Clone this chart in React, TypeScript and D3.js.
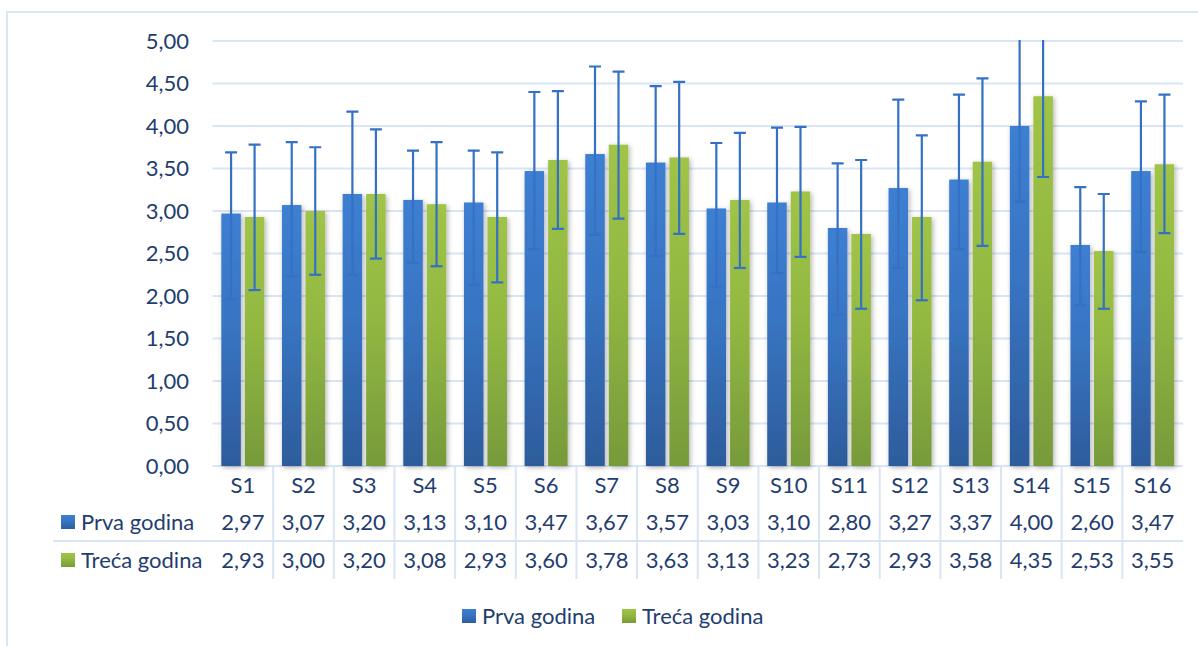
import React from "react";
import * as d3 from "d3";

const categories = ["S1","S2","S3","S4","S5","S6","S7","S8","S9","S10","S11","S12","S13","S14","S15","S16"];
const seriesNames = ["Prva godina", "Treća godina"];
const prva = [2.97,3.07,3.20,3.13,3.10,3.47,3.67,3.57,3.03,3.10,2.80,3.27,3.37,4.00,2.60,3.47];
const treca = [2.93,3.00,3.20,3.08,2.93,3.60,3.78,3.63,3.13,3.23,2.73,2.93,3.58,4.35,2.53,3.55];
const prvaUpper = [3.69,3.81,4.17,3.71,3.71,4.40,4.70,4.47,3.80,3.98,3.56,4.31,4.37,5.20,3.28,4.29];
const prvaLower = [1.96,2.23,2.25,2.39,2.13,2.55,2.72,2.47,2.11,2.27,1.78,2.33,2.55,3.11,1.89,2.52];
const trecaUpper = [3.78,3.75,3.96,3.81,3.69,4.41,4.64,4.52,3.92,3.99,3.60,3.89,4.56,5.30,3.20,4.37];
const trecaLower = [2.07,2.25,2.44,2.35,2.16,2.79,2.91,2.73,2.33,2.46,1.85,1.95,2.59,3.40,1.85,2.74];
const yTicks = [0, 0.5, 1, 1.5, 2, 2.5, 3, 3.5, 4, 4.5, 5];

const locale = d3.formatLocale({ decimal: ",", thousands: ".", grouping: [3], currency: ["", "€"] });
const fmt = locale.format(".2f");

const FONT = "Lato, 'Open Sans', sans-serif";
const FS = 22;
const TEXT = "#1f3d70";
const GRID = "#d9e5f4";
const ERR = "#3471c4";

export default function App() {
  const W = 1198, H = 646;
  const plotL = 212.5, plotR = 1183, plotT = 41, plotB = 466;
  const x0 = d3.scaleBand<string>().domain(categories).range([plotL, plotR]).paddingInner(0).paddingOuter(0);
  const x1 = d3.scaleBand<string>().domain(seriesNames).range([0, x0.bandwidth()]).paddingInner(0.17).paddingOuter(0.375);
  const y = d3.scaleLinear().domain([0, 5]).range([plotB, plotT]);

  const series = [
    { name: seriesNames[0], values: prva, upper: prvaUpper, lower: prvaLower, grad: "gBlue" },
    { name: seriesNames[1], values: treca, upper: trecaUpper, lower: trecaLower, grad: "gGreen" },
  ];

  const rowY = [522, 560];
  const headerY = 485;
  const tableBottom = 579;
  const rowLineY = 541;

  return (
    <svg width={W} height={H} style={{ position: "absolute", left: 0, top: 0 }} fontFamily={FONT}>
      <defs>
        <linearGradient id="gBlue" x1="0" y1="0" x2="0" y2="1">
          <stop offset="0" stopColor="#3d7fd2" />
          <stop offset="0.45" stopColor="#3874c2" />
          <stop offset="1" stopColor="#2d5c9b" />
        </linearGradient>
        <linearGradient id="gGreen" x1="0" y1="0" x2="0" y2="1">
          <stop offset="0" stopColor="#9fc446" />
          <stop offset="0.45" stopColor="#92b842" />
          <stop offset="1" stopColor="#779a3a" />
        </linearGradient>
        <filter id="shadow" x="-50%" y="-10%" width="200%" height="130%">
          <feDropShadow dx="1.5" dy="1.5" stdDeviation="2.5" floodColor="#000" floodOpacity="0.3" />
        </filter>
        <clipPath id="plotClip">
          <rect x={plotL} y={plotT - 1} width={plotR - plotL} height={plotB - plotT + 1} />
        </clipPath>
      </defs>
      <rect x={0} y={0} width={W} height={H} fill="#fff" />
      <rect x={7} y={12} width={1400} height={800} fill="none" stroke={GRID} strokeWidth={2} />

      {yTicks.map((t) => (
        <line key={t} x1={plotL} x2={plotR} y1={y(t)} y2={y(t)} stroke={GRID} strokeWidth={2} />
      ))}
      {yTicks.map((t) => (
        <text key={"l" + t} x={189} y={y(t)} dy="0.36em" textAnchor="end" fontSize={FS} fill={TEXT}>
          {fmt(t)}
        </text>
      ))}

      {series.map((s) => (
        <g key={s.name} filter="url(#shadow)">
          {categories.map((c, i) => (
            <rect
              key={c}
              x={(x0(c) as number) + (x1(s.name) as number)}
              y={y(s.values[i])}
              width={x1.bandwidth()}
              height={plotB - y(s.values[i])}
              fill={`url(#${s.grad})`}
            />
          ))}
        </g>
      ))}

      <g clipPath="url(#plotClip)" stroke={ERR} strokeWidth={2.2} fill="none">
        {series.map((s) =>
          categories.map((c, i) => {
            const cx = (x0(c) as number) + (x1(s.name) as number) + x1.bandwidth() / 2;
            const yu = y(s.upper[i]);
            const yl = y(s.lower[i]);
            return (
              <g key={s.name + c}>
                <line x1={cx} x2={cx} y1={yu} y2={yl} />
                <line x1={cx - 6} x2={cx + 6} y1={yu} y2={yu} />
                <line x1={cx - 6} x2={cx + 6} y1={yl} y2={yl} />
              </g>
            );
          })
        )}
      </g>

      {categories.slice(1).map((c) => (
        <line key={"v" + c} x1={x0(c) as number} x2={x0(c) as number} y1={plotB} y2={tableBottom} stroke={GRID} strokeWidth={2} />
      ))}
      <line x1={53} x2={plotR} y1={rowLineY} y2={rowLineY} stroke={GRID} strokeWidth={2} />

      {categories.map((c) => (
        <text key={"h" + c} x={(x0(c) as number) + x0.bandwidth() / 2} y={headerY} dy="0.36em" textAnchor="middle" fontSize={FS} fill={TEXT}>
          {c}
        </text>
      ))}
      {series.map((s, r) => (
        <g key={"row" + s.name}>
          <rect x={61} y={rowY[r] - 7} width={14} height={14} fill={`url(#${s.grad})`} />
          <text x={81} y={rowY[r]} dy="0.36em" fontSize={FS} fill={TEXT}>{s.name}</text>
          {categories.map((c, i) => (
            <text key={c} x={(x0(c) as number) + x0.bandwidth() / 2} y={rowY[r]} dy="0.36em" textAnchor="middle" fontSize={FS} fill={TEXT}>
              {fmt(s.values[i])}
            </text>
          ))}
        </g>
      ))}

      {series.map((s, i) => {
        const lx = i === 0 ? 462 : 622;
        return (
          <g key={"lg" + s.name}>
            <rect x={lx} y={609} width={14} height={14} fill={`url(#${s.grad})`} />
            <text x={lx + 20} y={616} dy="0.36em" fontSize={FS} fill={TEXT}>{s.name}</text>
          </g>
        );
      })}
    </svg>
  );
}
